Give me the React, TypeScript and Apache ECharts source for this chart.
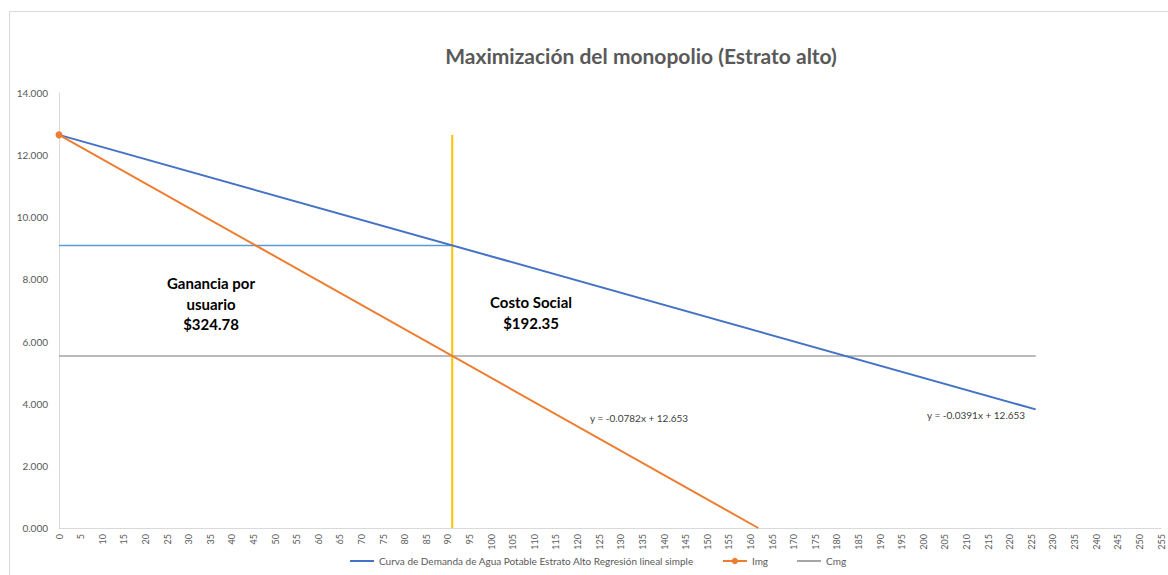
import React, { useEffect, useRef } from "react";
import * as echarts from "echarts";

const TITLE = "Maximización del monopolio (Estrato alto)";
const demandName = "Curva de Demanda de Agua Potable Estrato Alto Regresión lineal simple";
const imgName = "Img";
const cmgName = "Cmg";

// Demand curve (x, y)
const demandX = [0, 226];
const demandY = [12.653, 3.817];
// Marginal revenue
const imgX = [0, 161.8];
const imgY = [12.653, 0];
// Marginal cost
const cmgX = [0, 226];
const cmgY = [5.537, 5.537];
// Monopoly quantity (vertical) and price (horizontal)
const qX = [91, 91];
const qY = [0, 12.65];
const pX = [0, 91];
const pY = [9.095, 9.095];

const eqImg = "y = -0.0782x + 12.653";
const eqDemand = "y = -0.0391x + 12.653";
const gananciaLines = ["Ganancia por", "usuario", "$324.78"];
const costoLines = ["Costo Social", "$192.35"];

const pairs = (xs: number[], ys: number[]) => xs.map((x, i) => [x, ys[i]]);

export default function App() {
  const ref = useRef<HTMLDivElement>(null);
  useEffect(() => {
    if (!ref.current) return;
    const chart = echarts.init(ref.current, undefined, { renderer: "svg" });
    const font = "Lato, 'Liberation Sans', sans-serif";
    const gray = "#595959";
    chart.setOption({
      animation: false,
      backgroundColor: "#ffffff",
      textStyle: { fontFamily: font },
      grid: { left: 59, right: 7, top: 93, bottom: 47, containLabel: false },
      xAxis: {
        type: "value",
        min: 0,
        max: 255,
        interval: 5,
        axisLine: { show: true, lineStyle: { color: "#d9d9d9", width: 1 } },
        axisTick: { show: false },
        splitLine: { show: false },
        axisLabel: { rotate: 90, fontSize: 9, color: gray, margin: 6, fontFamily: font },
      },
      yAxis: {
        type: "value",
        min: 0,
        max: 14,
        interval: 2,
        axisLine: { show: true, lineStyle: { color: "#d9d9d9", width: 1 } },
        axisTick: { show: false },
        splitLine: { show: false },
        axisLabel: {
          fontSize: 10,
          color: gray,
          margin: 11,
          fontFamily: font,
          formatter: (v: number) => v.toFixed(3),
        },
      },
      legend: {
        bottom: 4,
        left: 346,
        padding: [5, 3],
        itemWidth: 24,
        itemHeight: 8,
        itemGap: 28,
        data: [
          { name: demandName, itemStyle: { opacity: 0 } },
          { name: imgName },
          { name: cmgName, itemStyle: { opacity: 0 } },
        ],
        textStyle: { fontSize: 10, color: gray, fontFamily: font },
      },
      series: [
        {
          name: demandName,
          type: "line",
          data: pairs(demandX, demandY),
          symbol: "none",
          lineStyle: { color: "#4472C4", width: 2 },
          itemStyle: { color: "#4472C4" },
          z: 3,
        },
        {
          name: imgName,
          type: "line",
          data: pairs(imgX, imgY).map((d, i) =>
            i === 0 ? { value: d, symbol: "circle", symbolSize: 7 } : { value: d, symbol: "none" }
          ),
          symbol: "circle",
          symbolSize: 7,
          showSymbol: true,
          lineStyle: { color: "#ED7D31", width: 2 },
          itemStyle: { color: "#ED7D31" },
          z: 4,
        },
        {
          name: cmgName,
          type: "line",
          data: pairs(cmgX, cmgY),
          symbol: "none",
          lineStyle: { color: "#A5A5A5", width: 1.5 },
          itemStyle: { color: "#A5A5A5" },
          z: 2,
        },
        {
          name: "Q",
          type: "line",
          data: pairs(qX, qY),
          symbol: "none",
          lineStyle: { color: "#FFC000", width: 2 },
          itemStyle: { color: "#FFC000" },
          z: 2,
        },
        {
          name: "P",
          type: "line",
          data: pairs(pX, pY),
          symbol: "none",
          lineStyle: { color: "#5B9BD5", width: 1.5 },
          itemStyle: { color: "#5B9BD5" },
          z: 2,
        },
      ],
      graphic: [
        {
          type: "rect",
          silent: true,
          shape: { x: 9.5, y: 11.5, width: 1200, height: 700 },
          style: { fill: "none", stroke: "#d9d9d9", lineWidth: 1 },
        },
        {
          type: "text",
          x: 641,
          y: 55,
          style: {
            text: TITLE,
            font: "bold 21px " + font,
            fill: gray,
            align: "center",
            verticalAlign: "middle",
          },
        },
        {
          type: "text",
          x: 211,
          y: 273,
          style: {
            text: gananciaLines.join("\n"),
            font: "bold 15px " + font,
            fill: "#000000",
            align: "center",
            lineHeight: 20.5,
          },
        },
        {
          type: "text",
          x: 531,
          y: 292,
          style: {
            text: costoLines.join("\n"),
            font: "bold 15px " + font,
            fill: "#000000",
            align: "center",
            lineHeight: 20.5,
          },
        },
        {
          type: "text",
          x: 590,
          y: 413,
          style: { text: eqImg, font: "10px " + font, fill: "#404040" },
        },
        {
          type: "text",
          x: 927,
          y: 410,
          style: { text: eqDemand, font: "10px " + font, fill: "#404040" },
        },
      ],
    });
    return () => chart.dispose();
  }, []);
  return (
    <div
      ref={ref}
      style={{ position: "fixed", left: 0, top: 0, width: 1168, height: 575, background: "#fff" }}
    />
  );
}
